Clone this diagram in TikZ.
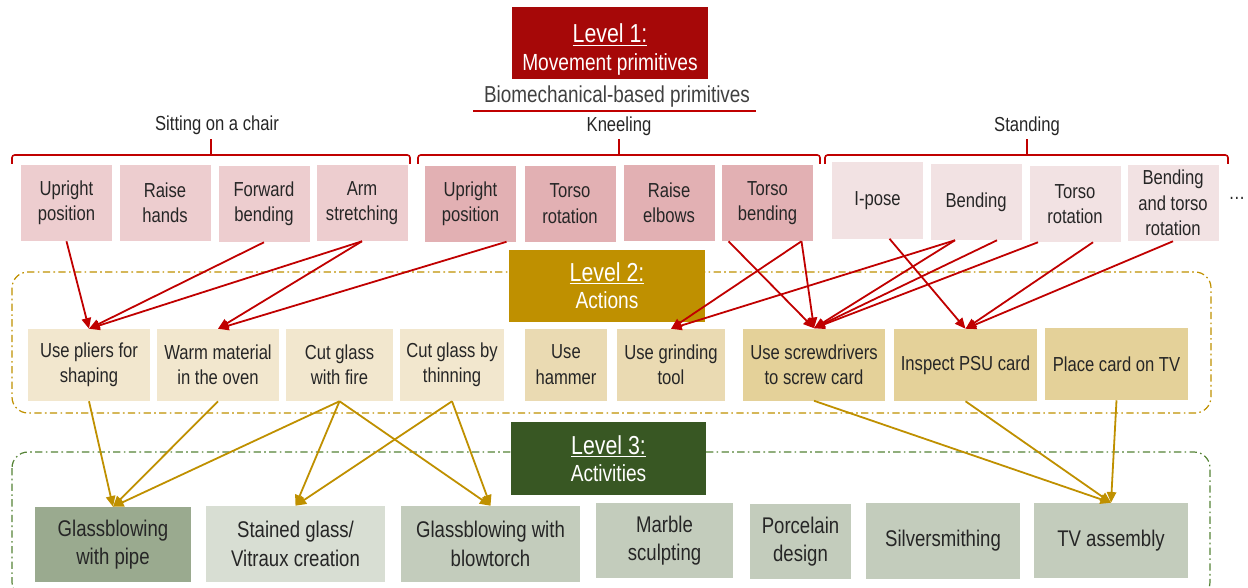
\documentclass[tikz,border=0pt]{standalone}
\usepackage{fontspec}
\setmainfont{Liberation Sans}[FakeStretch=0.82]
\usetikzlibrary{arrows.meta,calc}

\definecolor{lvlred}{RGB}{166,8,8}
\definecolor{red1}{RGB}{192,0,0}
\definecolor{gold1}{RGB}{191,144,0}
\definecolor{green1}{RGB}{56,87,35}
\definecolor{green2}{RGB}{84,130,53}
\definecolor{pinkA}{RGB}{237,205,207}
\definecolor{pinkB}{RGB}{226,176,179}
\definecolor{pinkC}{RGB}{242,226,227}
\definecolor{sandA}{RGB}{242,231,206}
\definecolor{sandB}{RGB}{234,218,178}
\definecolor{sandC}{RGB}{228,209,153}
\definecolor{sageA}{RGB}{154,170,143}
\definecolor{sageB}{RGB}{216,222,211}
\definecolor{sageC}{RGB}{195,204,188}
\definecolor{ink}{RGB}{38,38,38}
\definecolor{ink2}{RGB}{64,64,64}

\begin{document}
\begin{tikzpicture}[x=0.75pt,y=-0.75pt,
  every node/.style={inner sep=0pt,align=center,text=ink,font=\fontsize{15.2}{19}\selectfont},
  sz/.style 2 args={minimum width=#1*0.75pt,minimum height=#2*0.75pt},
  prim/.style={fill=#1,sz={91}{76}},
  act/.style={fill=#1},
  acty/.style={fill=#1,font=\fontsize{17}{21.5}\selectfont},
  lvl/.style={fill=#1,text=white,sz={196}{72},font=\fontsize{17.5}{20.5}\selectfont},
  brk/.style={draw=red1,line width=1.2pt,rounded corners=2pt},
  frame/.style={draw=#1,line width=0.9pt,rounded corners=12pt,dash pattern=on 5.5pt off 2.5pt on 1.2pt off 2.5pt},
  ra/.style={draw=red1,line width=1.35pt,-{Triangle[length=8pt,width=7pt]}},
  ga/.style={draw=gold1,line width=1.35pt,-{Triangle[length=8pt,width=7pt]}}]
\useasboundingbox (0,0) rectangle (1248,588);

% dash-dot frames round level 2 and level 3
\draw[frame=gold1] (12,272) rectangle (1211,413);
\draw[frame=green2] (12,452) rectangle (1210,598);

% level 1
\node[lvl=lvlred] (lvl1) at (610,43.5) {\rule{0pt}{23pt}{\fontsize{19.5}{20.5}\selectfont\underline{Level 1:}}\\Movement primitives};
\node[font=\fontsize{17.3}{20}\selectfont,text=ink2] (bio) at (617,97) {Biomechanical-based primitives};
\draw[brk] (473,111) -- (756,111);

\node (sit) at (217,125) {Sitting on a chair};
\node (kne) at (619,126) {Kneeling};
\node (sta) at (1027,126) {Standing};
\foreach \a/\m/\b in {12/211/410,418/619/820,825/1027/1228}{
  \draw[brk] (\a,164) |- (\b,155) -- (\b,164);
  \draw[brk] (\m,155) -- (\m,139);
}

\node[prim=pinkA] (supright) at (66.5,203) {Upright\\position};
\node[prim=pinkA] (raise) at (165,203) {Raise\\hands};
\node[prim=pinkA] (fbend) at (264,204) {Forward\\bending};
\node[prim=pinkA] (armstr) at (362,203) {Arm\\stretching};
\node[prim=pinkB] (kupright) at (470.5,203.5) {Upright\\position};
\node[prim=pinkB] (ktorso) at (570,203.5) {Torso\\rotation};
\node[prim=pinkB] (relbow) at (669,203) {Raise\\elbows};
\node[prim=pinkB] (tbend) at (767.5,203) {Torso\\bending};
\node[prim=pinkC] (ipose) at (877.5,200.5) {I-pose};
\node[prim=pinkC] (bend) at (976,202) {Bending};
\node[prim=pinkC] (storso) at (1075,204) {Torso\\rotation};
\node[prim=pinkC] (bendtor) at (1173,203) {Bending\\and torso\\rotation};
\node (more) at (1237,198) {\dots};

% level 2
\node[lvl=gold1] (lvl2) at (607,285.5) {{\fontsize{19.5}{20.5}\selectfont\underline{Level 2:}}\\Actions};
\node[act=sandA,sz={122}{72}] (pliers) at (89,365) {Use pliers for\\shaping};
\node[act=sandA,sz={122}{72}] (warm) at (218,365) {Warm material\\in the oven};
\node[act=sandA,sz={107}{72}] (cutfire) at (339.5,365) {Cut glass\\with fire};
\node[act=sandA,sz={104}{72}] (thin) at (452,365) {Cut glass by\\thinning};
\node[act=sandB,sz={82}{72}] (hammer) at (566,364.5) {Use\\hammer};
\node[act=sandB,sz={108}{72}] (grind) at (671,365) {Use grinding\\tool};
\node[act=sandC,sz={142}{72}] (screw) at (814,364.5) {Use screwdrivers\\to screw card};
\node[act=sandC,sz={143}{72}] (inspect) at (965.5,365) {Inspect PSU card};
\node[act=sandC,sz={143}{72}] (place) at (1116.5,364) {Place card on TV};

% level 3
\node[lvl=green1,sz={195}{73}] (lvl3) at (608.5,458.5) {{\fontsize{19.5}{20.5}\selectfont\underline{Level 3:}}\\Activities};
\node[acty=sageA,sz={156}{75}] (gbpipe) at (113,544.5) {Glassblowing\\with pipe};
\node[acty=sageB,sz={179}{76}] (stained) at (295.5,544) {Stained glass/\\Vitraux creation};
\node[acty=sageC,sz={179}{76}] (gbtorch) at (490.5,544) {Glassblowing with\\blowtorch};
\node[acty=sageC,sz={137}{75}] (marble) at (664.5,540.5) {Marble\\sculpting};
\node[acty=sageC,sz={101}{75}] (porc) at (800.5,541.5) {Porcelain\\design};
\node[acty=sageC,sz={154}{76}] (silver) at (943,541) {Silversmithing};
\node[acty=sageC,sz={154}{75}] (tv) at (1111,540.5) {TV assembly};

% primitives -> actions
\draw[ra] (supright.south) -- (pliers.north);
\draw[ra] (fbend.south) -- (pliers.north);
\draw[ra] (armstr.south) -- (pliers.north);
\draw[ra] (armstr.south) -- (warm.north);
\draw[ra] ($(kupright.south)+(36,0)$) -- (warm.north);
\draw[ra] ($(tbend.south)+(-39,0)$) -- (screw.north);
\draw[ra] ($(tbend.south)+(34,0)$) -- (screw.north);
\draw[ra] ($(tbend.south)+(34,0)$) -- (grind.north);
\draw[ra] ($(bend.south)+(-21,0)$) -- (grind.north);
\draw[ra] ($(bend.south)+(-21,0)$) -- (screw.north);
\draw[ra] ($(bend.south)+(21,0)$) -- (screw.north);
\draw[ra] ($(storso.south)+(-37,0)$) -- (screw.north);
\draw[ra] ($(ipose.south)+(12,0)$) -- (inspect.north);
\draw[ra] ($(storso.south)+(18,0)$) -- (inspect.north);
\draw[ra] (bendtor.south) -- (inspect.north);

% actions -> activities
\draw[ga] (pliers.south) -- (gbpipe.north);
\draw[ga] (warm.south) -- (gbpipe.north);
\draw[ga] (cutfire.south) -- (gbpipe.north);
\draw[ga] (cutfire.south) -- (stained.north);
\draw[ga] (cutfire.south) -- (gbtorch.north);
\draw[ga] (thin.south) -- (stained.north);
\draw[ga] (thin.south) -- (gbtorch.north);
\draw[ga] (screw.south) -- (tv.north);
\draw[ga] (inspect.south) -- (tv.north);
\draw[ga] (place.south) -- (tv.north);
\end{tikzpicture}
\end{document}
